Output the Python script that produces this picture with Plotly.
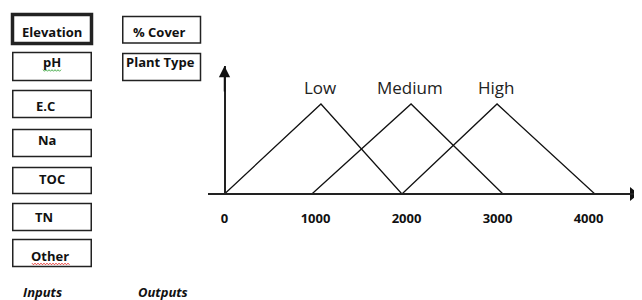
import plotly.graph_objects as go

# ---- data ----
sets = ["Low", "Medium", "High"]
low_x = [0, 1060, 1950]
medium_x = [960, 2050, 3060]
high_x = [1950, 2995, 4070]
membership = [0, 1, 0]
tick_vals = [0, 1000, 2000, 3000, 4000]
tick_text = ["0", "1000", "2000", "3000", "4000"]
inputs = ["Elevation", "pH", "E.C", "Na", "TOC", "TN", "Other"]
outputs = ["% Cover", "Plant Type"]

# page body has an 8px margin; the figure is sized to fill the rest
OFF = 8
W, H = 642 - OFF, 300 - OFF


def px(x):
    return (x - OFF) / W


def py(y):
    return 1 - (y - OFF) / H


X0 = 224.5       # page pixel of x=0
SX = 0.091       # pixels per unit
Y0 = 194         # page pixel of y=0
SY = 90          # pixels per membership unit


def dx(pix):
    return (pix - X0) / SX


fig = go.Figure()
for name, xs in zip(sets, [low_x, medium_x, high_x]):
    fig.add_trace(go.Scatter(x=xs, y=membership, mode="lines",
                             line=dict(color="#111", width=1.3),
                             name=name, showlegend=False, cliponaxis=False,
                             hoverinfo="skip"))
    peak = xs[membership.index(max(membership))]
    fig.add_annotation(x=peak, y=1, text=name, showarrow=False, yshift=17,
                       xshift=-1, xanchor="center", yanchor="middle",
                       font=dict(family="Open Sans", size=17, color="#222"))

xmin = dx(208)
xmax = dx(642)
ymax = (Y0 - 66) / SY

fig.update_layout(
    width=W, height=H, margin=dict(l=0, r=0, t=0, b=0),
    paper_bgcolor="white", plot_bgcolor="rgba(0,0,0,0)",
    xaxis=dict(domain=[px(208), 1], range=[xmin, xmax], anchor="free",
               position=py(Y0), showline=True, linecolor="#222", linewidth=1.5,
               showgrid=False, zeroline=False, tickvals=tick_vals, ticktext=tick_text,
               ticks="", ticklabelstandoff=13,
               tickfont=dict(family="Open Sans", size=13, color="#111", weight="bold")),
    yaxis=dict(domain=[py(Y0), py(66)], range=[0, ymax], anchor="free",
               position=px(X0), showline=True, linecolor="#222", linewidth=1.5,
               showgrid=False, zeroline=False, showticklabels=False, ticks=""),
)

# axis arrowheads
fig.add_annotation(x=0, y=ymax, ax=0, ay=ymax - 0.3, xref="x", yref="y",
                   axref="x", ayref="y", text="", showarrow=True, arrowhead=2,
                   arrowsize=1.5, arrowwidth=1.5, arrowcolor="#111", standoff=0)
fig.add_trace(go.Scatter(x=[dx(633)], y=[0], mode="markers",
                         marker=dict(symbol="triangle-right", size=12, color="#111"),
                         showlegend=False, cliponaxis=False, hoverinfo="skip"))

# input boxes
in_boxes = [(14.5, 43.5), (52.5, 80.5), (90.5, 117.5), (129.5, 156.5),
            (167.5, 193.5), (203.5, 230.5), (239.5, 266.5)]
in_text = [(52, 32), (52, 62), (45, 106), (47, 140), (52, 179), (44, 217), (50, 256)]
for i, (name, (y0, y1), (tx, ty)) in enumerate(zip(inputs, in_boxes, in_text)):
    lw = 3.5 if i == 0 else 1.5
    x0, x1 = (12.5, 91.5) if i == 0 else (12.75, 91.25)
    fig.add_shape(type="rect", xref="paper", yref="paper",
                  x0=px(x0), x1=px(x1), y0=py(y0), y1=py(y1),
                  line=dict(color="#222", width=lw), fillcolor="white")
    fig.add_annotation(x=px(tx), y=py(ty), xref="paper", yref="paper", text=name,
                       showarrow=False, xanchor="center", yanchor="middle",
                       font=dict(family="Open Sans", size=13, color="#111", weight="bold"))

out_boxes = [(16.5, 43), (53.5, 80.5)]
out_text = [(159, 32), (160, 62)]
for name, (y0, y1), (tx, ty) in zip(outputs, out_boxes, out_text):
    fig.add_shape(type="rect", xref="paper", yref="paper",
                  x0=px(122.75), x1=px(200.5), y0=py(y0), y1=py(y1),
                  line=dict(color="#222", width=1.5), fillcolor="white")
    fig.add_annotation(x=px(tx), y=py(ty), xref="paper", yref="paper", text=name,
                       showarrow=False, xanchor="center", yanchor="middle",
                       font=dict(family="Open Sans", size=13, color="#111", weight="bold"))


# spell-check squiggles
def squiggle(xa, xb, y, color):
    pts = []
    x = xa
    k = 0
    while x <= xb:
        yy = y + (0.8 if k % 2 else -0.8)
        pts.append(f"{px(x):.5f},{py(yy):.5f}")
        x += 1.5
        k += 1
    path = "M" + " L".join(pts)
    fig.add_shape(type="path", xref="paper", yref="paper", path=path,
                  line=dict(color=color, width=1))


squiggle(43, 62, 70.5, "#4caf50")
squiggle(32, 70, 264, "#e53935")

# captions
for name, tx in zip(["Inputs", "Outputs"], [42, 163]):
    fig.add_annotation(x=px(tx), y=0, xref="paper", yref="paper",
                       text=f"<b><i>{name}</i></b>", showarrow=False,
                       xanchor="center", yanchor="bottom", yshift=-3,
                       font=dict(family="Open Sans", size=13, color="#111"))

fig.write_html("out.html")
